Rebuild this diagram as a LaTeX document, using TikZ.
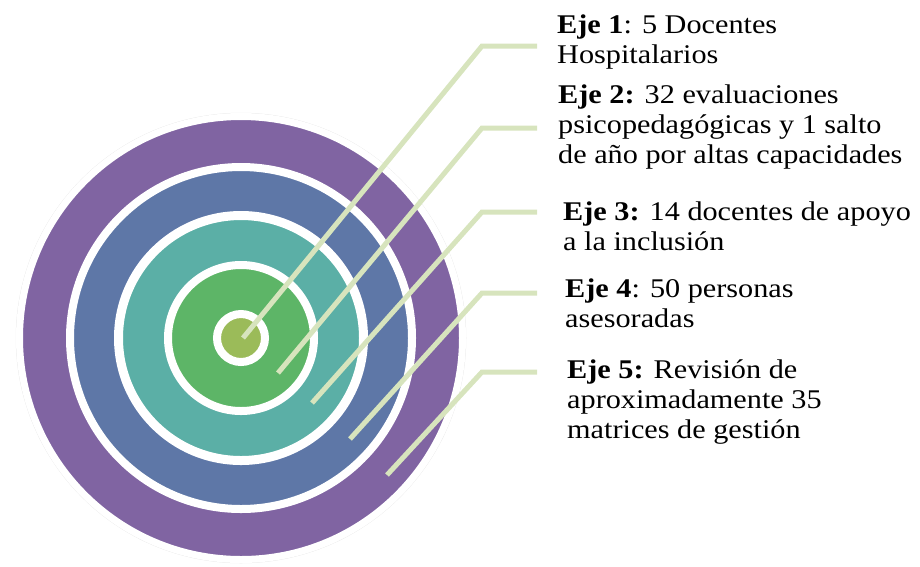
\documentclass[tikz,border=0pt]{standalone}
\usepackage{fontspec}
\setmainfont[FakeStretch=1.12]{Liberation Serif}
\usetikzlibrary{positioning}

\definecolor{ejePurple}{RGB}{128,100,162}
\definecolor{ejeBlue}{RGB}{94,119,167}
\definecolor{ejeTeal}{RGB}{91,175,166}
\definecolor{ejeGreen}{RGB}{93,181,103}
\definecolor{ejeLight}{RGB}{155,187,89}
\definecolor{leaderCol}{RGB}{215,228,189}

\tikzset{
  ring/.style={fill=#1, draw=white},
  leader/.style={draw=leaderCol, line width=5pt},
  label/.style={anchor=base west, inner sep=0pt, align=left,
    font=\fontsize{27}{30}\selectfont}
}

\begin{document}
\begin{tikzpicture}[x=1pt, y=-1pt]
  \useasboundingbox (0,0) rectangle (920,566);
  \coordinate (c) at (241,338);
  \draw[black!10, line width=1.5pt] (c) circle (224.5);
  \filldraw[ring=ejePurple, line width=7pt] (c) circle (221.5);
  \filldraw[ring=ejeBlue, line width=8pt] (c) circle (171);
  \filldraw[ring=ejeTeal, line width=9pt] (c) circle (122.5);
  \filldraw[ring=ejeGreen, line width=8pt] (c) circle (73);
  \filldraw[ring=ejeLight, line width=8pt] (c) circle (24);

  \coordinate (s1) at (243,338);
  \coordinate (s2) at (278,373);
  \coordinate (s3) at (312,403);
  \coordinate (s4) at (350,439);
  \coordinate (s5) at (387,475);
  \coordinate (k1) at (482,46);
  \coordinate (k2) at (482,128);
  \coordinate (k3) at (482,212);
  \coordinate (k4) at (482,293);
  \coordinate (k5) at (482,372);
  \coordinate (e1) at (537,46);
  \coordinate (e2) at (537,128);
  \coordinate (e3) at (537,212);
  \coordinate (e4) at (537,293);
  \coordinate (e5) at (537,372);

  \draw[leader] (s1) -- (k1) -- (e1);
  \draw[leader] (s2) -- (k2) -- (e2);
  \draw[leader] (s3) -- (k3) -- (e3);
  \draw[leader] (s4) -- (k4) -- (e4);
  \draw[leader] (s5) -- (k5) -- (e5);

  \node[label] (t1) at (557,63) {\textbf{Eje 1}: 5 Docentes\\Hospitalarios};
  \node[label] (t2) at (558,163) {\textbf{Eje 2:} 32 evaluaciones\\psicopedagógicas y 1 salto\\de año por altas capacidades};
  \node[label] (t3) at (563,250) {\textbf{Eje 3:} 14 docentes de apoyo\\a la inclusión};
  \node[label] (t4) at (565,327) {\textbf{Eje 4}: 50 personas\\asesoradas};
  \node[label] (t5) at (567,438) {\textbf{Eje 5:} Revisión de\\aproximadamente 35\\matrices de gestión};
\end{tikzpicture}
\end{document}
